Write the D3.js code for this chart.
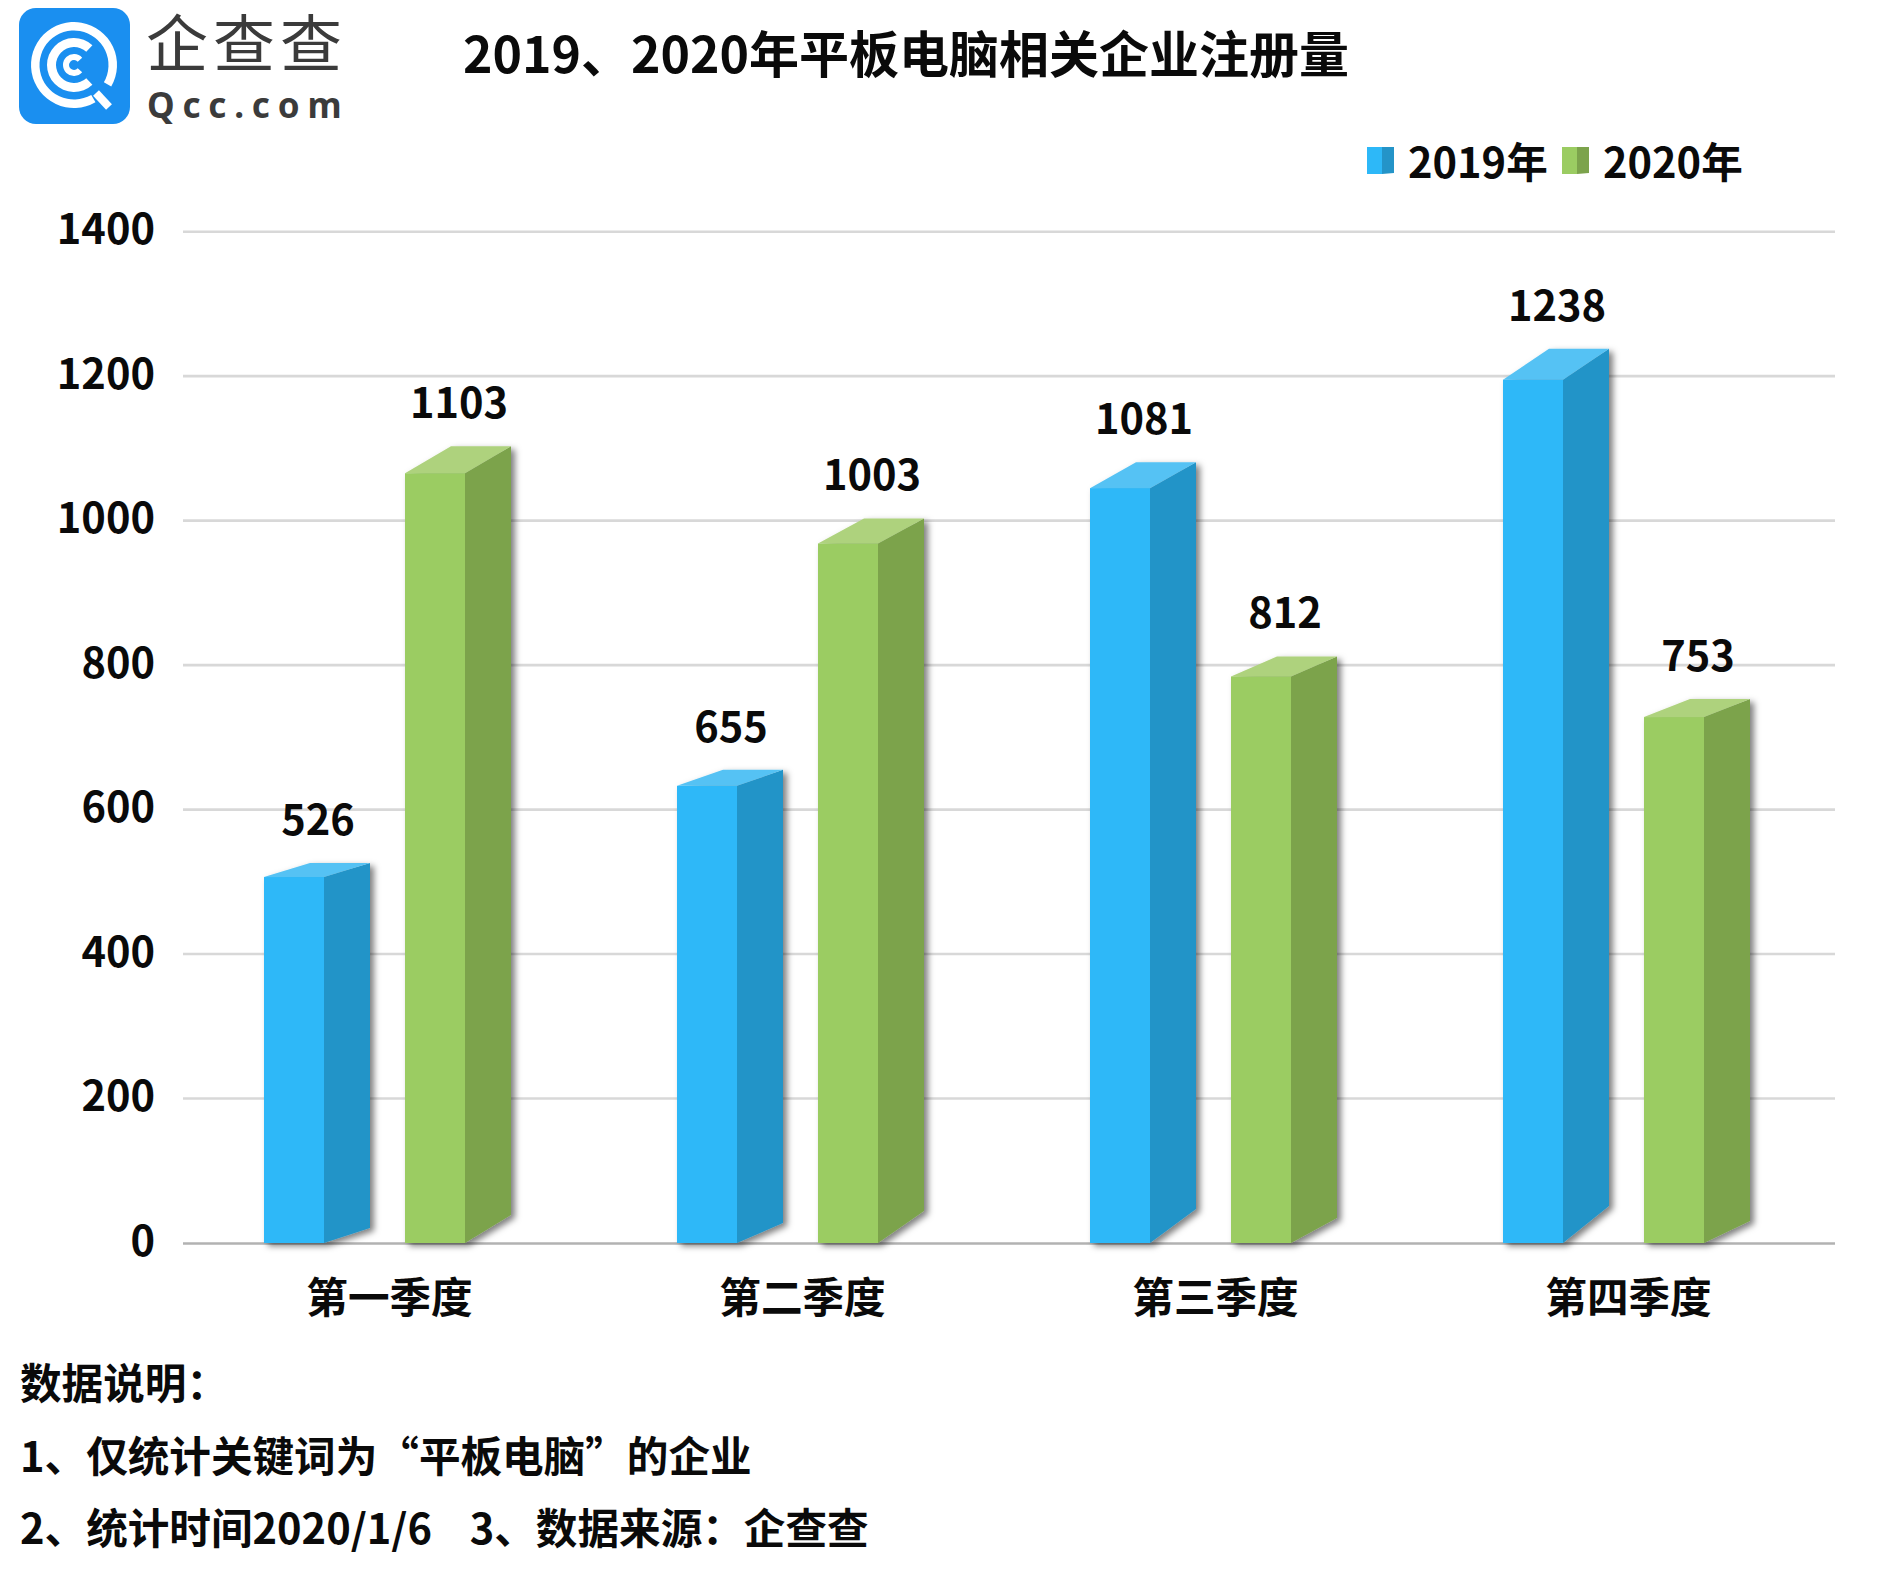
<!DOCTYPE html>
<html lang="zh-CN">
<head>
<meta charset="utf-8">
<script src="https://cdn.jsdelivr.net/npm/d3@7/dist/d3.min.js"></script>
<style>
html,body{margin:0;padding:0;background:#fff}
svg{display:block}
text{font-family:"Noto Sans CJK SC","Noto Sans",sans-serif;fill:#0a0a0a}
</style>
</head>
<body>
<script>
// ---- data ----
const categories = ["第一季度","第二季度","第三季度","第四季度"];
const seriesNames = ["2019年","2020年"];
const values2019 = [526,655,1081,1238];
const values2020 = [1103,1003,812,753];
const yTicks = [0,200,400,600,800,1000,1200,1400];
const titleText = "2019、2020年平板电脑相关企业注册量";
const noteLines = ["数据说明\uFF1A","1、仅统计关键词为“平板电脑”的企业","2、统计时间2020/1/6    3、数据来源\uFF1A企查查"];

// ---- perspective of each drawn bar, in pixels (style, not data) ----
const topRise = [[14,16,26,31],[27,25,20,18]];
const footRise = [[15,20,34,37],[28,32,25,22]];
const depth = 46;
const faces = [
  {front:"#2db8f8",side:"#2494c8",top:"#55c2f4"},
  {front:"#9bcc62",side:"#7ca34c",top:"#aed27d"}
];

const W = 1897, H = 1576;
const svg = d3.select("body").append("svg").attr("width",W).attr("height",H).attr("viewBox",[0,0,W,H]);

const defs = svg.append("defs");
const flt = defs.append("filter").attr("id","shadow").attr("x","-20%").attr("y","-10%").attr("width","150%").attr("height","120%");
flt.append("feDropShadow").attr("dx",4).attr("dy",3).attr("stdDeviation",3).attr("flood-color","#000").attr("flood-opacity",.5);

const x = d3.scaleBand().domain(categories).range([183,1835]);
const xSeries = d3.scaleBand().domain(seriesNames).range([-125.5,75.5]).paddingInner(81/141).paddingOuter(0);
const y = d3.scaleLinear().domain([0,1400]).range([1243,231.7]);

// gridlines and y labels
const yAxis = d3.axisLeft(y).tickValues(yTicks).tickSize(0).tickPadding(28).tickFormat(d3.format("d"));
const gy = svg.append("g").attr("transform","translate(183,0)").call(yAxis);
gy.select(".domain").remove();
gy.selectAll("text").attr("font-size",41.6).attr("font-weight",700).attr("dy",null)
  .attr("y",12).style("font-family",'"Noto Sans CJK SC"').attr("fill","#0a0a0a");

svg.append("g").selectAll("line").data(yTicks.filter(d=>d>0)).join("line")
  .attr("x1",183).attr("x2",1835).attr("y1",d=>y(d)).attr("y2",d=>y(d))
  .attr("stroke","#d8d8d8").attr("stroke-width",2.6);
svg.append("line").attr("x1",183).attr("x2",1835).attr("y1",y(0)+.5).attr("y2",y(0)+.5)
  .attr("stroke","#b2b2b2").attr("stroke-width",2.6);

// 3-D bars
const poly = pts => pts.map(p=>p.join(",")).join(" ");
[values2019,values2020].forEach((vals,s)=>{
  const g = svg.append("g").attr("class","series");
  const bars = g.selectAll("g").data(vals).join("g").attr("filter","url(#shadow)");
  const x0 = (d,i)=>x(categories[i])+x.bandwidth()/2+xSeries(seriesNames[s]);
  const w = xSeries.bandwidth();
  bars.append("polygon").attr("fill",faces[s].side).attr("points",(d,i)=>{
    const a=x0(d,i);
    return poly([[a+w,y(d)+topRise[s][i]],[a+w+depth,y(d)],[a+w+depth,y(0)-footRise[s][i]],[a+w,y(0)]]);
  });
  bars.append("polygon").attr("fill",faces[s].top).attr("points",(d,i)=>{
    const a=x0(d,i);
    return poly([[a,y(d)+topRise[s][i]],[a+depth,y(d)],[a+w+depth,y(d)],[a+w,y(d)+topRise[s][i]]]);
  });
  bars.append("rect").attr("fill",faces[s].front)
    .attr("x",x0).attr("width",w)
    .attr("y",(d,i)=>y(d)+topRise[s][i]).attr("height",(d,i)=>y(0)-y(d)-topRise[s][i]);
  g.selectAll("text").data(vals).join("text")
    .attr("x",(d,i)=>x0(d,i)+(w+depth)/2+1).attr("y",d=>y(d)-28)
    .attr("text-anchor","middle").attr("font-size",41.6).attr("font-weight",700).text(d=>d);
});

// category labels
svg.append("g").selectAll("text").data(categories).join("text")
  .attr("x",d=>x(d)+x.bandwidth()/2).attr("y",1312.5)
  .attr("text-anchor","middle").attr("font-size",41.6).attr("font-weight",700).text(d=>d);

// title
svg.append("text").attr("x",463).attr("y",73).attr("font-size",50).attr("font-weight",700).text(titleText);

// legend
const legendX = [1367,1562];
const lg = svg.append("g").selectAll("g").data(seriesNames).join("g")
  .attr("transform",(d,i)=>`translate(${legendX[i]},147)`);
lg.append("rect").attr("width",15).attr("height",27).attr("fill",(d,i)=>faces[i].front);
lg.append("polygon").attr("points","15,0 27,0 27,26 15,27").attr("fill",(d,i)=>faces[i].side);
lg.append("text").attr("x",41).attr("y",30.5).attr("font-size",41.6).attr("font-weight",700).text(d=>d);

// notes
svg.append("g").selectAll("text").data(noteLines).join("text")
  .attr("x",20).attr("y",(d,i)=>1399+i*72.5).attr("font-size",41.6).attr("font-weight",700)
  .style("white-space","pre").text(d=>d);

// logo
const logo = svg.append("g");
logo.append("rect").attr("x",19).attr("y",8).attr("width",111).attr("height",116).attr("rx",17).attr("fill","#1a8ff0");
const arc = d3.arc();
const rings = [[34.5,43,150,480],[18,27,137,403],[5,11,132,408]];
const c = logo.append("g").attr("transform","translate(74,65)");
c.selectAll("path").data(rings).join("path").attr("fill","#fff").attr("d",r=>arc({
  innerRadius:r[0],outerRadius:r[1],startAngle:r[2]*Math.PI/180,endAngle:r[3]*Math.PI/180}));
c.append("line").attr("x1",22).attr("y1",28).attr("x2",35).attr("y2",42).attr("stroke","#fff").attr("stroke-width",8);
logo.append("text").attr("x",146).attr("y",67).attr("font-size",62).attr("font-weight",400)
  .attr("letter-spacing",5).style("font-family",'"Liberation Sans","Noto Sans CJK SC"').style("fill","#3b3b3b").text("企查查");
logo.append("text").attr("x",147).attr("y",118).attr("font-size",35).attr("font-weight",700)
  .attr("letter-spacing",7.8).style("font-family",'"Noto Sans"').style("fill","#3b3b3b").text("Qcc.com");
</script>
</body>
</html>
